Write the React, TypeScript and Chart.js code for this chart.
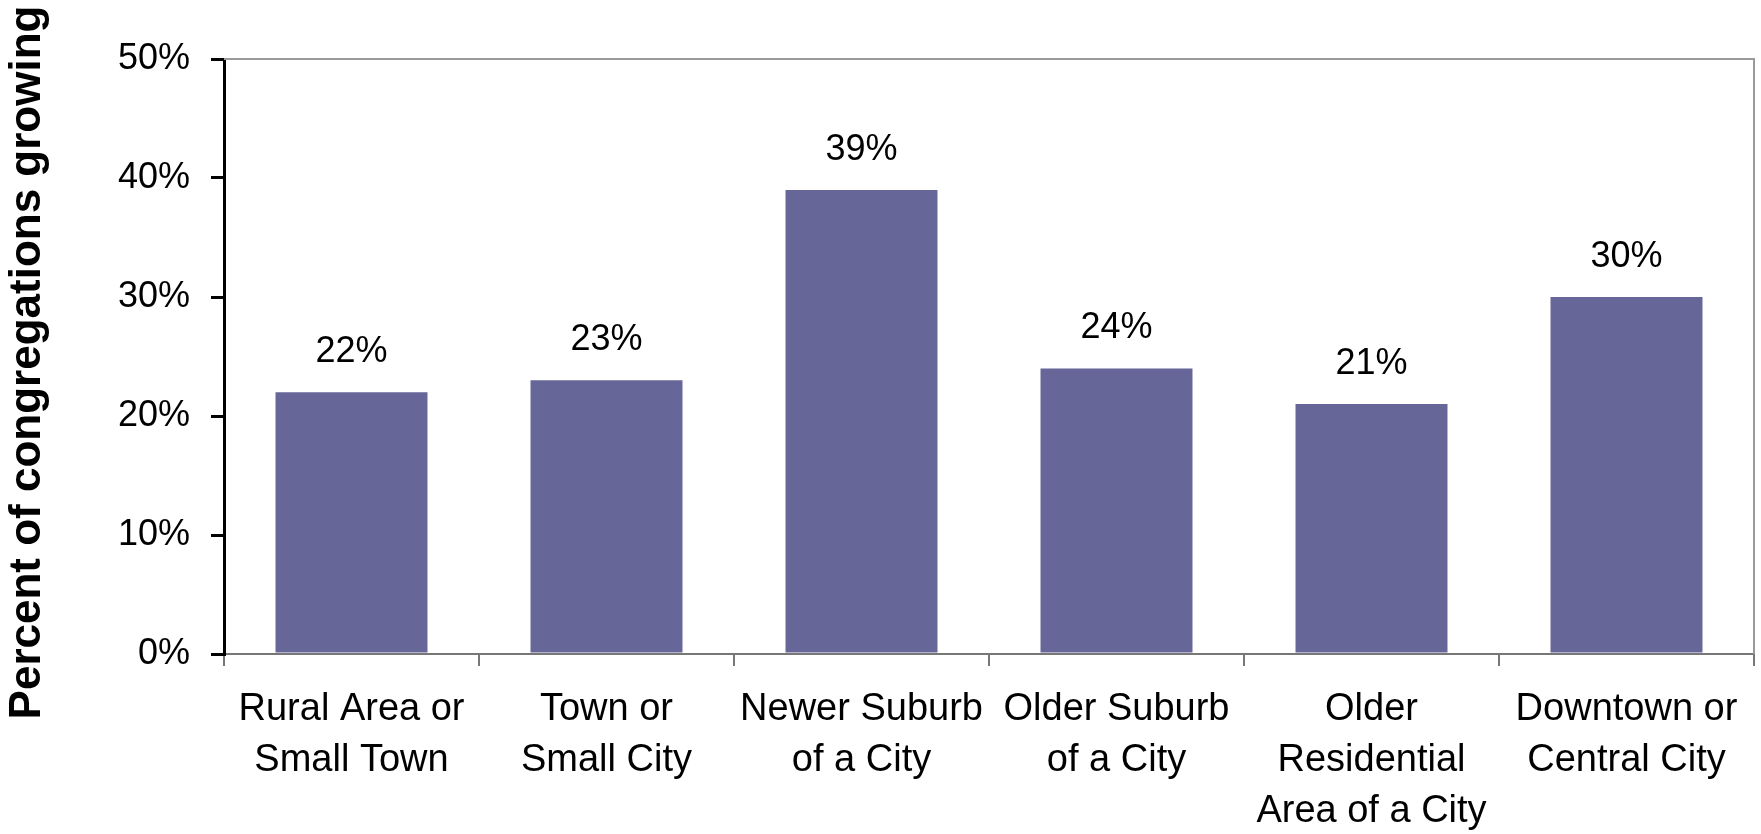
import React, { useEffect, useRef } from "react";
import { Chart, registerables } from "chart.js";

Chart.register(...registerables);

const categories: string[][] = [
  ["Rural Area or", "Small Town"],
  ["Town or", "Small City"],
  ["Newer Suburb", "of a City"],
  ["Older Suburb", "of a City"],
  ["Older", "Residential", "Area of a City"],
  ["Downtown or", "Central City"],
];
const growingPercent: number[] = [22, 23, 39, 24, 21, 30];
const yTickValues: number[] = [0, 10, 20, 30, 40, 50];
const yAxisTitle = "Percent of congregations growing";

const FONT = "'Liberation Sans', Arial, Helvetica, sans-serif";

const frameAndLabels = {
  id: "frameAndLabels",
  beforeDatasetsDraw(chart: any) {
    const { ctx, chartArea } = chart;
    ctx.save();
    ctx.strokeStyle = "#9a9a9a";
    ctx.lineWidth = 2;
    ctx.beginPath();
    ctx.moveTo(chartArea.left, chartArea.top);
    ctx.lineTo(chartArea.right, chartArea.top);
    ctx.lineTo(chartArea.right, chartArea.bottom);
    ctx.stroke();
    ctx.restore();
  },
  afterDatasetsDraw(chart: any) {
    const { ctx, chartArea } = chart;
    const meta = chart.getDatasetMeta(0);
    const data = chart.data.datasets[0].data as number[];
    ctx.save();
    ctx.fillStyle = "#000";
    ctx.font = `36px ${FONT}`;
    ctx.textAlign = "center";
    ctx.textBaseline = "alphabetic";
    meta.data.forEach((el: any, i: number) => {
      ctx.fillText(`${data[i]}%`, el.x, el.y - 30);
    });
    ctx.restore();

    // y-axis title (slightly below the plot centre, as in the source)
    const yScale = chart.scales.y;
    ctx.save();
    ctx.fillStyle = "#000";
    ctx.font = `bold 44px ${FONT}`;
    ctx.textAlign = "center";
    ctx.textBaseline = "middle";
    ctx.translate(yScale.left + 28, (chartArea.top + chartArea.bottom) / 2 + 6);
    ctx.rotate(-Math.PI / 2);
    ctx.fillText(yAxisTitle, 0, 0);
    ctx.restore();
  },
};

export default function App() {
  const ref = useRef<HTMLCanvasElement | null>(null);

  useEffect(() => {
    if (!ref.current) return;
    const chart = new Chart(ref.current, {
      type: "bar",
      data: {
        labels: categories,
        datasets: [
          {
            data: growingPercent,
            backgroundColor: "#666699",
            borderWidth: 0,
            categoryPercentage: 1,
            barPercentage: 0.596,
          },
        ],
      },
      options: {
        responsive: false,
        animation: false,
        layout: { padding: { top: 59, right: 7, left: 0, bottom: 0 } },
        plugins: {
          legend: { display: false },
          tooltip: { enabled: false },
        },
        scales: {
          x: {
            offset: true,
            grid: {
              offset: true,
              drawOnChartArea: false,
              drawTicks: true,
              tickLength: 12,
              color: "#777",
              lineWidth: 2,
            },
            border: { display: true, color: "#777", width: 2 },
            ticks: {
              autoSkip: false,
              maxRotation: 0,
              minRotation: 0,
              padding: 18,
              color: "#000",
              font: { family: FONT, size: 38, lineHeight: 1.34 },
            },
            afterFit: (scale: any) => {
              scale.height = 180;
            },
          },
          y: {
            min: 0,
            max: 50,
            afterBuildTicks: (scale: any) => {
              scale.ticks = yTickValues.map((v) => ({ value: v }));
            },
            grid: {
              drawOnChartArea: false,
              drawTicks: true,
              tickLength: 13,
              color: "#000",
              lineWidth: 3,
            },
            border: { display: true, color: "#000", width: 3 },
            ticks: {
              padding: 21,
              color: "#000",
              font: { family: FONT, size: 36 },
              callback: (v: any) => `${v}%`,
            },
            title: { display: false },
            afterFit: (scale: any) => {
              scale.width = 224;
            },
          },
        },
      },
      plugins: [frameAndLabels],
    });
    return () => chart.destroy();
  }, []);

  return (
    <div style={{ position: "fixed", left: 0, top: 0, width: 1761, height: 834, background: "#fff" }}>
      <canvas ref={ref} width={1761} height={834} style={{ display: "block" }} />
    </div>
  );
}
